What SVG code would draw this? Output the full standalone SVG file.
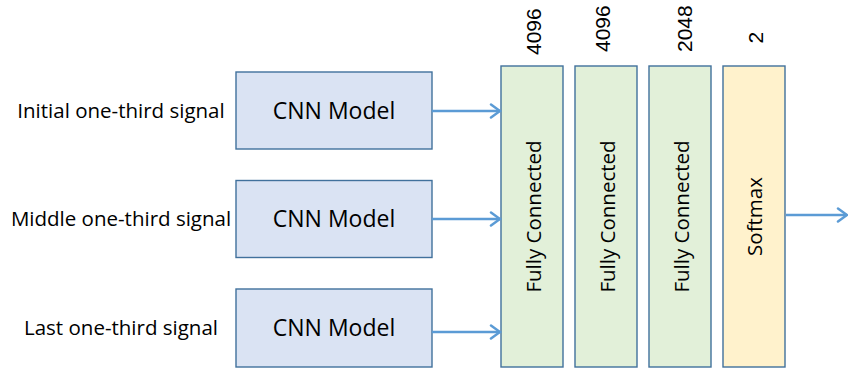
<svg xmlns="http://www.w3.org/2000/svg" width="848" height="369" viewBox="0 0 848 369">
  <style>
    .label { font-family: "Open Sans", "Noto Sans", sans-serif; fill: #000; }
    .side { font-size: 20.5px; text-anchor: middle; }
    .cnn-text { font-size: 23px; text-anchor: middle; }
    .layer-text { font-size: 20.5px; text-anchor: middle; }
    .dim { font-family: "Liberation Sans", Arial, sans-serif; font-size: 21px; fill: #000; }
    .cnn { fill: #DAE3F3; stroke: #41719C; stroke-width: 1.4; }
    .fc { fill: #E2F0D9; stroke: #41719C; stroke-width: 1.4; }
    .soft { fill: #FFF2CC; stroke: #41719C; stroke-width: 1.4; }
    .link { stroke: #5B9BD5; stroke-width: 2.5; fill: none; }
  </style>
  <defs>
    <marker id="arrow" markerUnits="userSpaceOnUse" markerWidth="14" markerHeight="16" viewBox="0 0 14 16" refX="12" refY="8" orient="auto">
      <path d="M3,1.5 L12,8 L3,14.5" fill="none" stroke="#5B9BD5" stroke-width="2.5" stroke-linecap="round" stroke-linejoin="miter"/>
    </marker>
  </defs>

  <!-- input signal labels -->
  <g id="label-initial"><text class="label side" x="121" y="117.5">Initial one-third signal</text></g>
  <g id="label-middle"><text class="label side" x="121" y="226">Middle one-third signal</text></g>
  <g id="label-last"><text class="label side" x="121" y="335">Last one-third signal</text></g>

  <!-- CNN branches -->
  <g id="cnn-1">
    <rect class="cnn" x="236" y="72" width="196" height="77"/>
    <text class="label cnn-text" x="334" y="118.5">CNN Model</text>
  </g>
  <g id="cnn-2">
    <rect class="cnn" x="236" y="180.5" width="196" height="77"/>
    <text class="label cnn-text" x="334" y="227">CNN Model</text>
  </g>
  <g id="cnn-3">
    <rect class="cnn" x="236" y="289" width="196" height="78"/>
    <text class="label cnn-text" x="334" y="336">CNN Model</text>
  </g>

  <!-- dense head -->
  <g id="fc-1">
    <rect class="fc" x="501" y="66" width="62" height="301"/>
    <text class="label layer-text" transform="translate(541 216.5) rotate(-90)">Fully Connected</text>
    <text class="dim" transform="translate(541 55) rotate(-90)">4096</text>
  </g>
  <g id="fc-2">
    <rect class="fc" x="575" y="66" width="62" height="301"/>
    <text class="label layer-text" transform="translate(615 216.5) rotate(-90)">Fully Connected</text>
    <text class="dim" transform="translate(609.5 52) rotate(-90)">4096</text>
  </g>
  <g id="fc-3">
    <rect class="fc" x="649" y="66" width="62" height="301"/>
    <text class="label layer-text" transform="translate(689 216.5) rotate(-90)">Fully Connected</text>
    <text class="dim" transform="translate(691.5 52) rotate(-90)">2048</text>
  </g>
  <g id="softmax">
    <rect class="soft" x="723" y="66" width="62" height="301"/>
    <text class="label layer-text" transform="translate(762 216.5) rotate(-90)">Softmax</text>
    <text class="dim" transform="translate(762.5 43.5) rotate(-90)">2</text>
  </g>

  <!-- connectors -->
  <g id="connectors">
    <line class="link" x1="432" y1="111" x2="500" y2="111" marker-end="url(#arrow)"/>
    <line class="link" x1="432" y1="219" x2="500" y2="219" marker-end="url(#arrow)"/>
    <line class="link" x1="432" y1="332" x2="500" y2="332" marker-end="url(#arrow)"/>
    <line class="link" x1="786" y1="215" x2="847" y2="215" marker-end="url(#arrow)"/>
  </g>
</svg>
